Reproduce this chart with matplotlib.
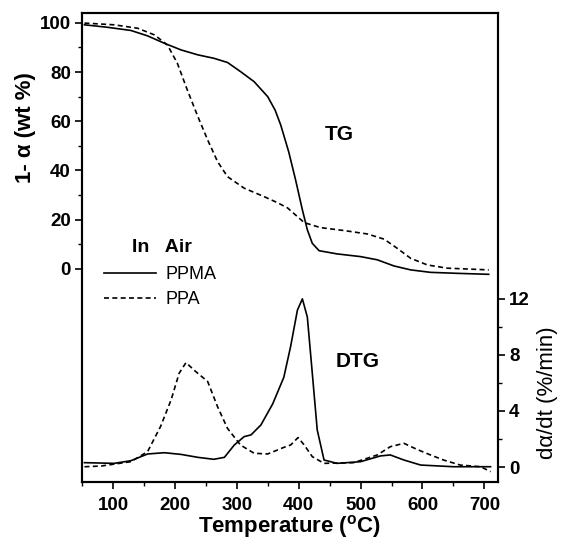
import matplotlib
matplotlib.use('Agg')
import matplotlib.pyplot as plt
from matplotlib.ticker import MultipleLocator, FixedLocator

plt.rcParams['font.family'] = ['Liberation Sans', 'DejaVu Sans']

# TG curves (1 - alpha, wt %)
tg_ppma_T = [54, 91, 129, 156, 183, 210, 237, 263, 285, 306, 328, 350, 362, 371, 384, 395, 406, 414,
             422, 433, 462, 500, 527, 554, 581, 613, 656, 707]
tg_ppma = [99.2, 98.2, 96.9, 94.7, 91.7, 89, 87, 85.6, 83.9, 80.2, 76.1, 70, 64.5, 58.5, 47.5, 36.2, 24, 15.9,
           10.4, 7.4, 6.1, 5.0, 3.7, 1.2, -0.4, -1.4, -1.8, -2.2]
tg_ppa_T = [54, 102, 140, 167, 188, 204, 220, 237, 253, 269, 285, 312, 344, 365, 382, 409, 435, 473,
            511, 538, 559, 581, 608, 640, 707]
tg_ppa = [99.9, 99.2, 97.8, 95.1, 91, 83.6, 72.8, 62, 52.4, 43.6, 37.5, 32.8, 29.4, 27.0, 24.8, 18.8, 16.8, 15.6,
          14.2, 12.1, 8.4, 4.3, 1.6, 0.3, -0.4]

# DTG curves (dalpha/dt, %/min)
dtg_ppma_T = [54, 102, 129, 156, 183, 210, 237, 263, 280, 296, 312, 323, 339, 358, 376, 387, 398, 406,
              414, 422, 430, 441, 462, 500, 532, 548, 570, 597, 650, 710]
dtg_ppma = [0.31, 0.26, 0.45, 0.93, 1.02, 0.9, 0.69, 0.55, 0.69, 1.57, 2.17, 2.29, 3.0, 4.5, 6.4, 8.6, 11.2, 12.0,
            10.7, 6.7, 2.64, 0.5, 0.26, 0.38, 0.79, 0.86, 0.5, 0.14, 0.02, 0.02]
dtg_ppa_T = [54, 81, 129, 156, 177, 194, 207, 218, 234, 253, 269, 285, 306, 328, 350, 365, 376, 387,
             399, 409, 422, 441, 489, 527, 548, 570, 591, 613, 634, 661, 694, 710]
dtg_ppa = [0.02, 0.07, 0.38, 1.1, 2.9, 4.8, 6.7, 7.45, 6.8, 6.1, 4.3, 2.76, 1.57, 0.98, 0.93, 1.2, 1.4, 1.57,
           2.1, 1.57, 0.74, 0.26, 0.31, 0.86, 1.45, 1.69, 1.26, 0.86, 0.5, 0.14, 0.02, -0.33]

fig = plt.figure(figsize=(5.62, 5.49), dpi=100)
ax = fig.add_axes([82/562, 1-482/549, (498-82)/562, (482-13)/549])
ax2 = ax.twinx()

dash = (0, (3, 2))
lp, = ax.plot(tg_ppma_T, tg_ppma, color='black', lw=1.2)
ld, = ax.plot(tg_ppa_T, tg_ppa, color='black', lw=1.2, linestyle=dash)
ax2.plot(dtg_ppma_T, dtg_ppma, color='black', lw=1.2)
ax2.plot(dtg_ppa_T, dtg_ppa, color='black', lw=1.2, linestyle=dash)

ax.set_xlim(50, 722)
ax.set_ylim(-86.6, 104)
ax2.set_ylim(-1.07, 32.4)

ax.xaxis.set_major_locator(MultipleLocator(100))
ax.xaxis.set_minor_locator(MultipleLocator(50))
ax.yaxis.set_major_locator(FixedLocator([0, 20, 40, 60, 80, 100]))
ax.yaxis.set_minor_locator(FixedLocator([10, 30, 50, 70, 90]))
ax2.yaxis.set_major_locator(FixedLocator([0, 4, 8, 12]))
ax2.yaxis.set_minor_locator(FixedLocator([2, 6, 10]))

for a in (ax, ax2):
    a.tick_params(which='major', direction='out', length=5, width=1.2, labelsize=13.5)
    a.tick_params(which='minor', direction='out', length=3, width=1.0)
    for s in a.spines.values():
        s.set_linewidth(1.5)
    for lab in a.get_xticklabels() + a.get_yticklabels():
        lab.set_fontweight('bold')
ax.tick_params(axis='x', pad=6)
ax.tick_params(axis='y', pad=3)
ax2.tick_params(axis='y', pad=3)

fig.text(25/562, 1-128/549, '1- α (wt %)', rotation=90, ha='center', va='center',
         fontsize=16, fontweight='bold')
fig.text(548/562, 1-393/549, 'dα/dt (%/min)', rotation=90, ha='center', va='center',
         fontsize=16)
fig.text(290/562, 1-527/549, 'Temperature ($\\mathregular{^o}$C)', ha='center', va='center',
         fontsize=16, fontweight='bold')

ax.text(466, 54.5, 'TG', fontsize=15, fontweight='bold', ha='center', va='center')
ax2.text(495, 7.5, 'DTG', fontsize=15, fontweight='bold', ha='center', va='center')

fig.text(162/562, 1-248/549, 'In   Air', ha='center', va='center', fontsize=14, fontweight='bold')
fig.legend([lp, ld], ['PPMA', 'PPA'], loc='upper left', bbox_to_anchor=(104/562, 1-266/549),
           frameon=False, fontsize=13, handlelength=2.9, handletextpad=0.5, labelspacing=0.45,
           borderpad=0, borderaxespad=0)

fig.savefig('out.png', dpi=100)
